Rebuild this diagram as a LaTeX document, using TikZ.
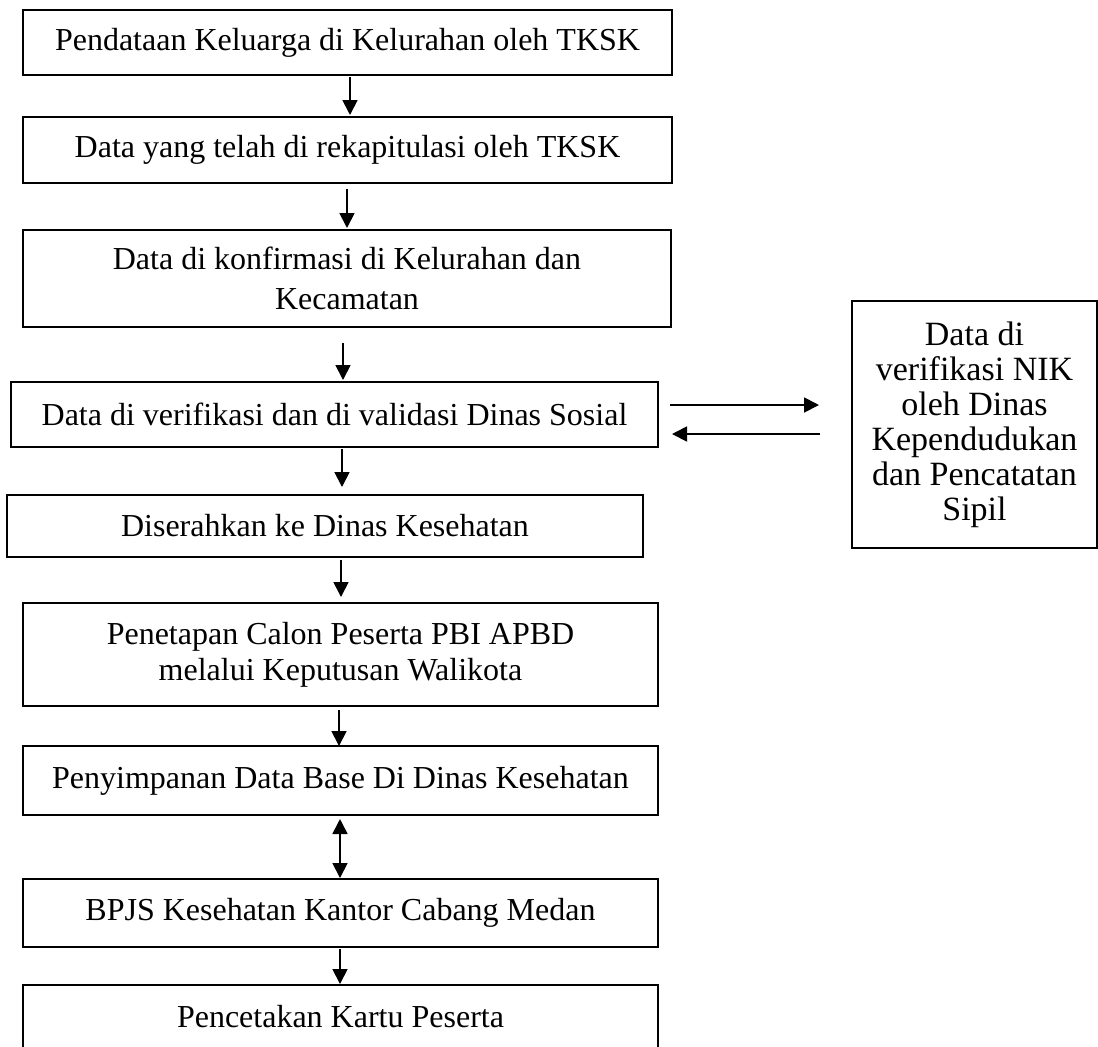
\documentclass[tikz,border=0pt]{standalone}
\usepackage{fontspec}
\setmainfont{Liberation Serif}
\usetikzlibrary{positioning, arrows.meta}

\tikzset{
  box/.style={draw, line width=0.9pt, outer sep=0pt, inner sep=2pt, align=center,
    font=\fontsize{16}{19}\selectfont},
  arr/.style={-{Triangle[width=7.5pt,length=7.5pt]}, line width=0.9pt},
  dblarr/.style={{Triangle[width=7.5pt,length=7.5pt]}-{Triangle[width=7.5pt,length=7.5pt]}, line width=0.9pt}
}

\begin{document}
\begin{tikzpicture}[x=0.5pt, y=-0.5pt]
                    \useasboundingbox (0,0) rectangle (1098,1046);
                    \node (b1) [box, minimum width=324.5pt, minimum height=32.5pt] at (347.5,42.5) {Pendataan Keluarga di Kelurahan oleh TKSK};
                    \node (b2) [box, minimum width=324.5pt, minimum height=33pt, below=21pt of b1] {Data yang telah di rekapitulasi oleh TKSK};
                    \node (b3) [box, minimum width=324pt, minimum height=48.5pt, below=23.5pt of b2, xshift=-0.25pt, font=\fontsize{16}{20}\selectfont] {Data di konfirmasi di Kelurahan dan\\Kecamatan};
                    \node (b4) [box, minimum width=323.5pt, minimum height=32.5pt, below=27.5pt of b3, xshift=-6.25pt] {Data di verifikasi dan di validasi Dinas Sosial};
                    \node (b5) [box, minimum width=318pt, minimum height=31pt, below=24pt of b4, xshift=-4.75pt] {Diserahkan ke Dinas Kesehatan};
                    \node (b6) [box, minimum width=317.5pt, minimum height=51.5pt, below=23pt of b5, xshift=7.75pt, font=\fontsize{16}{18}\selectfont] {Penetapan Calon Peserta PBI APBD\\melalui Keputusan Walikota};
                    \node (b7) [box, minimum width=317.5pt, minimum height=34.5pt, below=20pt of b6] {Penyimpanan Data Base Di Dinas Kesehatan};
                    \node (b8) [box, minimum width=317.5pt, minimum height=34pt, below=32pt of b7] {BPJS Kesehatan Kantor Cabang Medan};
                    \node (b9) [box, minimum width=317.5pt, minimum height=31.5pt, below=19pt of b8] {Pencetakan Kartu Peserta};
                    \node (nik) [box, minimum width=122.5pt, minimum height=123.5pt, right=97pt of b4, yshift=-5pt, font=\fontsize{17}{17.5}\selectfont] {Data di\\verifikasi NIK\\oleh Dinas\\Kependudukan\\dan Pencatatan\\Sipil};
                    \draw[arr, shorten <=1pt, shorten >=1pt] ([xshift=1.25pt]b1.south) -- ([xshift=1.25pt]b1.south |- b2.north);
                    \draw[arr, shorten <=3pt, shorten >=1pt] ([xshift=-0.25pt]b2.south) -- ([xshift=-0.25pt]b2.south |- b3.north);
                    \draw[arr, shorten <=8pt, shorten >=1pt] ([xshift=-2pt]b3.south) -- ([xshift=-2pt]b3.south |- b4.north);
                    \draw[arr, shorten <=1pt, shorten >=4pt] ([xshift=3.75pt]b4.south) -- ([xshift=3.75pt]b4.south |- b5.north);
                    \draw[arr, shorten <=1.5pt, shorten >=3pt] ([xshift=8pt]b5.south) -- ([xshift=8pt]b5.south |- b6.north);
                    \draw[arr, shorten <=2pt] ([xshift=-0.75pt]b6.south) -- ([xshift=-0.75pt]b6.south |- b7.north);
                    \draw[dblarr, shorten <=2pt, shorten >=0.5pt] ([xshift=-0.25pt]b7.south) -- ([xshift=-0.25pt]b7.south |- b8.north);
                    \draw[arr, shorten <=1pt, shorten >=0.5pt] ([xshift=-0.25pt]b8.south) -- ([xshift=-0.25pt]b8.south |- b9.north);
                    \draw[arr, shorten <=6pt, shorten >=16.5pt] ([yshift=4.75pt]b4.east) -- ([yshift=4.75pt]b4.east -| nik.west);
                    \draw[arr, shorten <=16pt, shorten >=7pt] ([yshift=-9.75pt]b4.east -| nik.west) -- ([yshift=-9.75pt]b4.east);
                \end{tikzpicture}
\end{document}
